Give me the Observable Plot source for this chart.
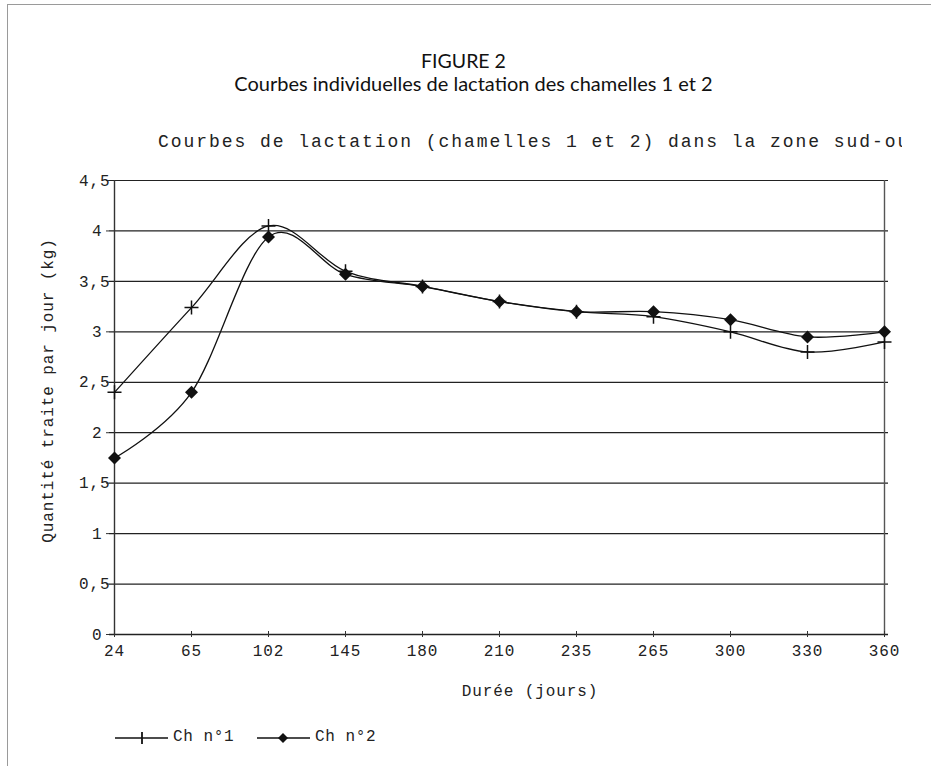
<!DOCTYPE html>
<html>
<head>
<meta charset="utf-8">
<script src="https://cdn.jsdelivr.net/npm/d3@7"></script>
<script src="https://cdn.jsdelivr.net/npm/@observablehq/plot@0.6"></script>
<style>
  html, body { margin: 0; padding: 0; background: #fff; }
  #wrap { position: relative; width: 931px; height: 766px; overflow: hidden; background: #fff; }
  #frame { position: absolute; left: 7px; top: 4px; width: 940px; height: 800px;
           border-left: 1.5px solid #9a9a9a; border-top: 1.5px solid #9a9a9a; }
  .t1 { position: absolute; left: 0; width: 931px; text-align: center; font-family: Lato, "Open Sans", sans-serif; color: #111; line-height: 1; }
  #fig { top: 51px; font-size: 19.5px; left: -2px; }
  #sub { top: 73px; font-size: 20px; left: 8px; }
  #ctitle { position: absolute; left: 0; top: 132px; width: 902px; height: 24px; overflow: hidden; white-space: nowrap;
            font-family: "Liberation Mono", monospace; font-size: 18px; letter-spacing: 1.95px; color: #222; }
  #ctitle span { position: absolute; left: 158px; top: 0; }
  #plot { position: absolute; left: 0; top: 0; }
  #legend { position: absolute; left: 0; top: 726px; width: 931px; height: 26px;
            font-family: "Liberation Mono", monospace; font-size: 16px; letter-spacing: 0.6px; color: #222; }
</style>
</head>
<body>
<div id="wrap">
  <div id="frame"></div>
  <div id="fig" class="t1"></div>
  <div id="sub" class="t1"></div>
  <div id="ctitle"><span></span></div>
  <div id="plot"></div>
  <div id="legend"></div>
</div>
<script>
// ---- data ----
const figureLabel = "FIGURE 2";
const figureTitle = "Courbes individuelles de lactation des chamelles 1 et 2";
const chartTitle = "Courbes de lactation (chamelles 1 et 2) dans la zone sud-ouest";
const xTitle = "Durée (jours)";
const yTitle = "Quantité traite par jour (kg)";
const days = ["24", "65", "102", "145", "180", "210", "235", "265", "300", "330", "360"];
const ch1 = [2.4, 3.24, 4.05, 3.6, 3.45, 3.3, 3.2, 3.15, 3.0, 2.8, 2.9];
const ch2 = [1.75, 2.4, 3.94, 3.57, 3.45, 3.3, 3.2, 3.2, 3.12, 2.95, 3.0];
const seriesNames = ["Ch n°1", "Ch n°2"];
const yTicks = [0, 0.5, 1, 1.5, 2, 2.5, 3, 3.5, 4, 4.5];

document.getElementById("fig").textContent = figureLabel;
document.getElementById("sub").textContent = figureTitle;
document.querySelector("#ctitle span").textContent = chartTitle;

const rows1 = days.map((d, i) => ({day: d, value: ch1[i], series: seriesNames[0]}));
const rows2 = days.map((d, i) => ({day: d, value: ch2[i], series: seriesNames[1]}));

const plusSymbol = {
  draw(ctx, size) {
    const r = Math.sqrt(size / Math.PI);
    ctx.moveTo(-r, 0); ctx.lineTo(r, 0);
    ctx.moveTo(0, -r); ctx.lineTo(0, r);
  }
};
const diamondSymbol = {
  draw(ctx, size) {
    const r = Math.sqrt(size / Math.PI);
    ctx.moveTo(0, -r); ctx.lineTo(r, 0); ctx.lineTo(0, r); ctx.lineTo(-r, 0); ctx.closePath();
  }
};
const fmt = d => String(d).replace(".", ",");
const W = 931, H = 766;

const chart = Plot.plot({
  width: W, height: H,
  marginLeft: 109, marginRight: 43, marginTop: 180, marginBottom: 132,
  x: {type: "point", domain: days, padding: 0, label: null},
  y: {domain: [0, 4.5], label: null},
  style: {fontFamily: "'Liberation Mono', monospace", fontSize: "16px", color: "#222", background: "transparent", overflow: "visible"},
  marks: [
    Plot.gridY(yTicks, {stroke: "#222", strokeOpacity: 1, strokeWidth: 1.2}),
    Plot.ruleX([days[days.length - 1]], {stroke: "#555", strokeWidth: 1.4}),
    Plot.ruleX([days[0]], {stroke: "#333", strokeWidth: 1.4}),
    Plot.ruleY([0], {stroke: "#222", strokeWidth: 1.4}),
    // y ticks (outward stubs)
    Plot.axisY(yTicks, {tickSize: 3, tickFormat: () => "", stroke: "#333", label: null}),
    // y labels: halves
    Plot.axisY(yTicks.filter(v => !Number.isInteger(v)), {tickSize: 0, tickPadding: 0, dx: 1, tickFormat: fmt, label: null}),
    // y labels: integers
    Plot.axisY(yTicks.filter(v => Number.isInteger(v)), {tickSize: 0, tickPadding: 0, dx: -7, tickFormat: fmt, label: null}),
    // x ticks crossing the axis
    Plot.axisX({tickSize: 6, dy: -3, tickFormat: () => "", stroke: "#333", label: null}),
    Plot.axisX({tickSize: 0, tickPadding: 10, label: null}),
    // axis titles
    Plot.text([xTitle], {frameAnchor: "bottom", text: d => d, dx: 31, dy: 61, fontSize: 16, fill: "#222", style: "letter-spacing:1px"}),
    Plot.text([yTitle], {frameAnchor: "left", text: d => d, textAnchor: "middle", rotate: -90, dx: -62, dy: -17, fontSize: 16, fill: "#222", style: "letter-spacing:1px"}),
    // series
    Plot.line(rows1, {x: "day", y: "value", curve: "cardinal", tension: 0, stroke: "#111", strokeWidth: 1.3}),
    Plot.line(rows2, {x: "day", y: "value", curve: "cardinal", tension: 0, stroke: "#111", strokeWidth: 1.3}),
    Plot.dot(rows1, {x: "day", y: "value", symbol: plusSymbol, r: 7, stroke: "#111", strokeWidth: 1.5, fill: "none"}),
    Plot.dot(rows2, {x: "day", y: "value", symbol: diamondSymbol, r: 6.5, fill: "#111", stroke: "none"})
  ]
});
chart.style.setProperty("letter-spacing", "0.9px");
document.getElementById("plot").appendChild(chart);

// legend
const legend = document.getElementById("legend");
const items = [
  {name: seriesNames[0], x: 115, sym: "plus"},
  {name: seriesNames[1], x: 257, sym: "diamond"}
];
const svgNS = "http://www.w3.org/2000/svg";
for (const it of items) {
  const svg = document.createElementNS(svgNS, "svg");
  svg.setAttribute("width", 54); svg.setAttribute("height", 26);
  svg.style.position = "absolute"; svg.style.left = it.x + "px"; svg.style.top = "0px";
  const line = document.createElementNS(svgNS, "line");
  line.setAttribute("x1", 0); line.setAttribute("x2", 53); line.setAttribute("y1", 12); line.setAttribute("y2", 12);
  line.setAttribute("stroke", "#111"); line.setAttribute("stroke-width", 1.6);
  svg.appendChild(line);
  const p = document.createElementNS(svgNS, "path");
  if (it.sym === "plus") {
    p.setAttribute("d", "M27,6V18");
    p.setAttribute("stroke", "#111"); p.setAttribute("stroke-width", 1.8);
  } else {
    p.setAttribute("d", "M26,7L31,12L26,17L21,12Z");
    p.setAttribute("fill", "#111");
  }
  svg.appendChild(p);
  legend.appendChild(svg);
  const t = document.createElement("span");
  t.textContent = it.name;
  t.style.position = "absolute"; t.style.left = (it.x + 58) + "px"; t.style.top = "2px";
  legend.appendChild(t);
}
</script>
</body>
</html>
